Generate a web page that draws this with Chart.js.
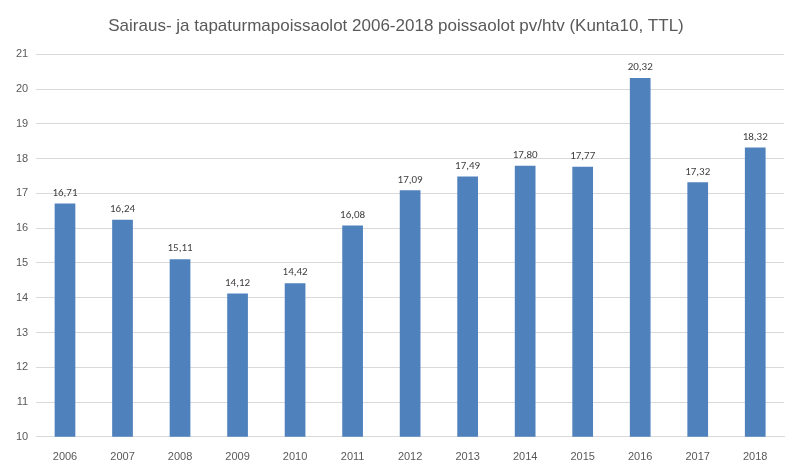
<!DOCTYPE html>
<html>
<head>
<meta charset="utf-8">
<script src="https://cdn.jsdelivr.net/npm/chart.js@4"></script>
<style>
  html, body { margin: 0; padding: 0; background: #fff; }
  #wrap { width: 798px; height: 476px; }
</style>
</head>
<body>
<div id="wrap"><canvas id="c"></canvas></div>
<script>
const years = ['2006','2007','2008','2009','2010','2011','2012','2013','2014','2015','2016','2017','2018'];
const days = [16.71, 16.24, 15.11, 14.12, 14.42, 16.08, 17.09, 17.49, 17.80, 17.77, 20.32, 17.32, 18.32];
const chartTitle = 'Sairaus- ja tapaturmapoissaolot 2006-2018 poissaolot pv/htv (Kunta10, TTL)';

// Arvot pylväiden päälle, pilkku desimaalierottimena
const valueLabels = {
  id: 'valueLabels',
  afterDatasetsDraw(chart) {
    const ctx = chart.ctx;
    ctx.save();
    ctx.font = '11px Calibri, Carlito, "Liberation Sans", sans-serif';
    ctx.fillStyle = '#404040';
    ctx.textAlign = 'center';
    ctx.textBaseline = 'bottom';
    chart.getDatasetMeta(0).data.forEach((bar, i) => {
      ctx.fillText(days[i].toFixed(2).replace('.', ','), bar.x, bar.y - 5);
    });
    ctx.restore();
  }
};

new Chart(document.getElementById('c'), {
  type: 'bar',
  data: {
    labels: years,
    datasets: [{
      data: days,
      backgroundColor: '#4f81bd',
      barPercentage: 0.36,
      categoryPercentage: 1
    }]
  },
  options: {
    responsive: true,
    maintainAspectRatio: false,
    animation: false,
    layout: { padding: { left: 8, right: 14, top: 6, bottom: 6 } },
    plugins: {
      legend: { display: false },
      tooltip: { enabled: false },
      title: {
        display: true,
        text: chartTitle,
        color: '#595959',
        font: { family: '"Liberation Sans", sans-serif', size: 17, weight: 'normal' },
        padding: { top: 10, bottom: 18 }
      }
    },
    scales: {
      y: {
        min: 10,
        max: 21,
        ticks: { stepSize: 1, color: '#595959', font: { size: 11 }, padding: 8 },
        grid: { color: '#d9d9d9', drawTicks: false },
        border: { display: false }
      },
      x: {
        ticks: { color: '#595959', font: { size: 11 }, padding: 6 },
        grid: { display: false },
        border: { color: '#d9d9d9' }
      }
    }
  },
  plugins: [valueLabels]
});
</script>
</body>
</html>
